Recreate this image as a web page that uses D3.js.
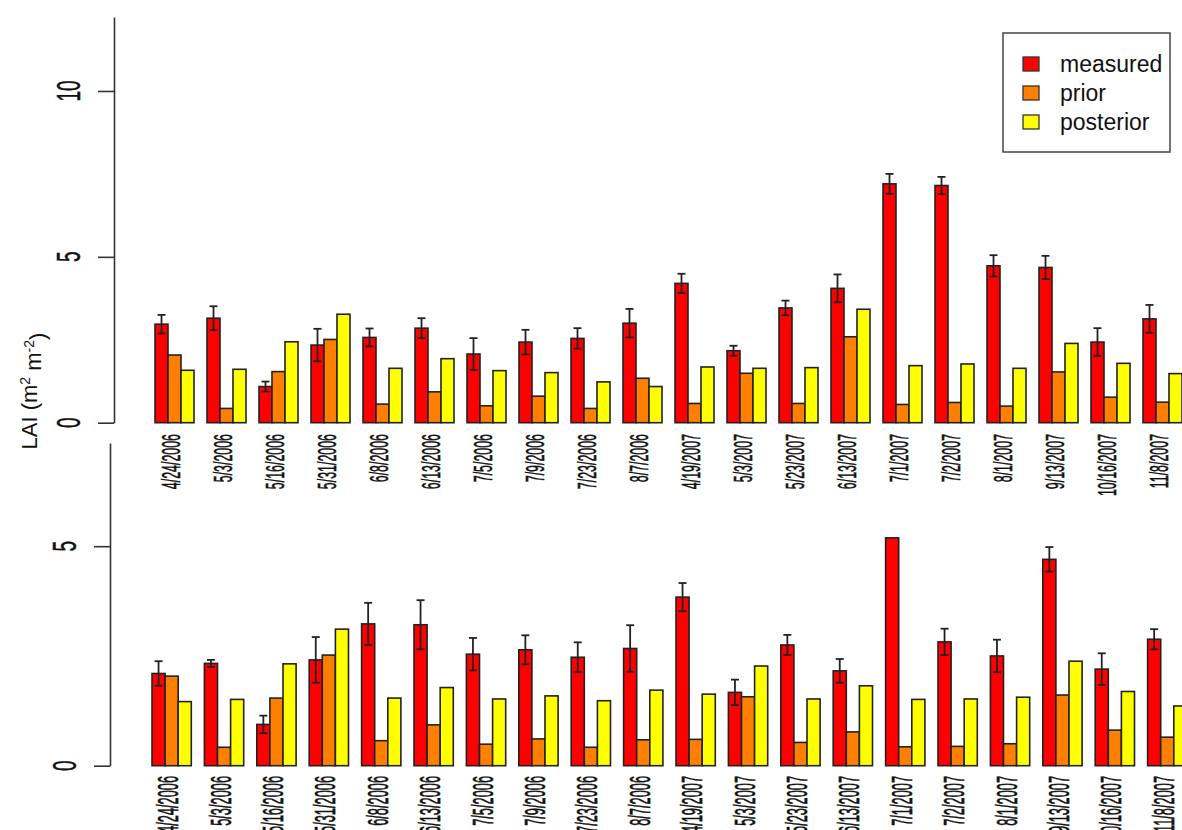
<!DOCTYPE html>
<html>
<head>
<meta charset="utf-8">
<script src="https://cdn.jsdelivr.net/npm/d3@7/dist/d3.min.js"></script>
<style>
html,body{margin:0;padding:0;background:#fff;}
svg{display:block;}
text{font-family:"Liberation Sans",Arial,sans-serif;fill:#111;}
</style>
</head>
<body>
<svg id="chart" width="1182" height="830"></svg>
<script>
const dates = ["4/24/2006","5/3/2006","5/16/2006","5/31/2006","6/8/2006","6/13/2006","7/5/2006","7/9/2006","7/23/2006","8/7/2006","4/19/2007","5/3/2007","5/23/2007","6/13/2007","7/1/2007","7/2/2007","8/1/2007","9/13/2007","10/16/2007","11/8/2007"];
const seriesNames = ["measured","prior","posterior"];
const seriesColors = ["#ff0000","#ff7f00","#ffff00"];

// upper panel
const topMeasured   = [2.97,3.15,1.09,2.34,2.57,2.85,2.07,2.43,2.54,3.00,4.20,2.17,3.46,4.05,7.20,7.15,4.73,4.68,2.43,3.13];
const topMeasuredErr= [0.28,0.36,0.15,0.49,0.27,0.30,0.48,0.37,0.31,0.43,0.29,0.15,0.22,0.42,0.30,0.26,0.32,0.35,0.42,0.42];
const topPrior      = [2.04,0.43,1.54,2.51,0.56,0.93,0.51,0.80,0.43,1.34,0.58,1.49,0.58,2.59,0.55,0.61,0.50,1.53,0.77,0.62];
const topPosterior  = [1.58,1.61,2.44,3.27,1.64,1.93,1.57,1.51,1.23,1.09,1.68,1.64,1.66,3.42,1.72,1.77,1.64,2.39,1.79,1.48];
const topTicks = [0,5,10];

// lower panel
const botMeasured   = [2.10,2.33,0.94,2.41,3.23,3.21,2.54,2.64,2.47,2.67,3.84,1.67,2.75,2.16,5.19,2.82,2.50,4.70,2.20,2.88];
const botMeasuredErr= [0.28,0.08,0.20,0.52,0.48,0.56,0.37,0.33,0.34,0.53,0.32,0.29,0.23,0.27,0.00,0.30,0.37,0.28,0.36,0.23];
const botPrior      = [2.04,0.42,1.54,2.52,0.57,0.93,0.49,0.61,0.42,0.59,0.60,1.57,0.53,0.77,0.43,0.44,0.50,1.61,0.81,0.65];
const botPosterior  = [1.46,1.51,2.32,3.11,1.54,1.78,1.52,1.59,1.48,1.72,1.63,2.27,1.52,1.82,1.51,1.52,1.56,2.38,1.69,1.36];
const botTicks = [0,5];

const yLabel = "LAI";

const svg = d3.select("#chart");

function panel(cfg){
  const g = svg.append("g");
  const x = d3.scaleBand().domain(dates).range(cfg.xRange).paddingInner(0.25).paddingOuter(0).align(0);
  const xs = d3.scaleBand().domain(seriesNames).range([0, x.bandwidth()]);
  const y = d3.scaleLinear().domain(cfg.yDomain).range(cfg.yRange);
  const rows = dates.map((d,i)=>({date:d, vals:[cfg.m[i], cfg.p[i], cfg.q[i]], err:cfg.e[i], m:cfg.m[i]}));

  // axis
  const ax = d3.axisLeft(y).tickValues(cfg.ticks).tickSize(16).tickSizeOuter(0).tickFormat("");
  const axg = g.append("g").attr("transform",`translate(${cfg.axisX},0)`).call(ax);
  axg.selectAll("path,line").attr("stroke","#333").attr("stroke-width",1.6);
  g.selectAll(".ytl").data(cfg.ticks).join("text")
    .attr("class","ytl")
    .attr("transform", d=>`translate(${cfg.axisX-46},${y(d)}) rotate(-90) scale(0.95,1.65)`)
    .attr("text-anchor","middle").attr("dy","0.36em")
    .attr("font-size",20).attr("stroke","#111").attr("stroke-width",0.3).text(d=>d);

  // bars
  const grp = g.selectAll(".grp").data(rows).join("g").attr("class","grp")
    .attr("transform", d=>`translate(${x(d.date)},0)`);
  grp.selectAll("rect").data(d=>d.vals.map((v,k)=>({v, k}))).join("rect")
    .attr("x", d=>xs(seriesNames[d.k]))
    .attr("width", xs.bandwidth())
    .attr("y", d=>y(d.v))
    .attr("height", d=>y(0)-y(d.v))
    .attr("fill", d=>seriesColors[d.k])
    .attr("stroke","#222").attr("stroke-width",1.6);

  // error bars
  const eb = grp.filter(d=>d.err>0).append("g")
    .attr("transform",`translate(${xs("measured")+xs.bandwidth()/2},0)`)
    .attr("stroke","#222").attr("stroke-width",1.8);
  eb.append("line").attr("x1",0).attr("x2",0).attr("y1",d=>y(d.m+d.err)).attr("y2",d=>y(d.m-d.err));
  eb.append("line").attr("x1",-4).attr("x2",4).attr("y1",d=>y(d.m+d.err)).attr("y2",d=>y(d.m+d.err));
  eb.append("line").attr("x1",-4).attr("x2",4).attr("y1",d=>y(d.m-d.err)).attr("y2",d=>y(d.m-d.err));

  // date labels
  g.selectAll(".xl").data(dates).join("text").attr("class","xl")
    .attr("transform", d=>`translate(${x(d)+x.bandwidth()/2-4},${cfg.labelY}) rotate(-90) scale(${cfg.lsx},${cfg.lsy})`)
    .attr("text-anchor","end").attr("dy","0.36em")
    .attr("font-size",20).attr("stroke","#111").attr("stroke-width",0.45).text(d=>d);
}

panel({xRange:[155, 155+52*19.75], yDomain:[0,12.23], yRange:[422.7,17], axisX:114, ticks:topTicks,
  m:topMeasured, e:topMeasuredErr, p:topPrior, q:topPosterior, labelY:434, lsx:0.62, lsy:1.3});
panel({xRange:[152, 152+52.4*19.75], yDomain:[0,7.35], yRange:[765.7,443], axisX:110, ticks:botTicks,
  m:botMeasured, e:botMeasuredErr, p:botPrior, q:botPosterior, labelY:776, lsx:0.64, lsy:1.45});

// y label
const yl = svg.append("text").attr("transform","translate(29,391) rotate(-90)")
  .attr("text-anchor","middle").attr("dy","0.36em").attr("font-size",22);
yl.append("tspan").text(yLabel+" (m");
yl.append("tspan").attr("font-size",14).attr("dy","-0.5em").text("2");
yl.append("tspan").attr("dy","0.5em").text(" m");
yl.append("tspan").attr("font-size",14).attr("dy","-0.5em").text("-2");
yl.append("tspan").attr("dy","0.5em").text(")");

// legend
const lg = svg.append("g");
lg.append("rect").attr("x",1003).attr("y",33).attr("width",167).attr("height",119)
  .attr("fill","#fff").attr("stroke","#444").attr("stroke-width",1.5);
seriesNames.forEach((s,i)=>{
  const cy = 64 + i*29;
  lg.append("rect").attr("x",1023).attr("y",cy-7).attr("width",16).attr("height",14)
    .attr("fill",seriesColors[i]).attr("stroke","#333").attr("stroke-width",1.3);
  lg.append("text").attr("x",1060).attr("y",cy).attr("dy","0.36em").attr("font-size",23).text(s);
});
</script>
</body>
</html>
